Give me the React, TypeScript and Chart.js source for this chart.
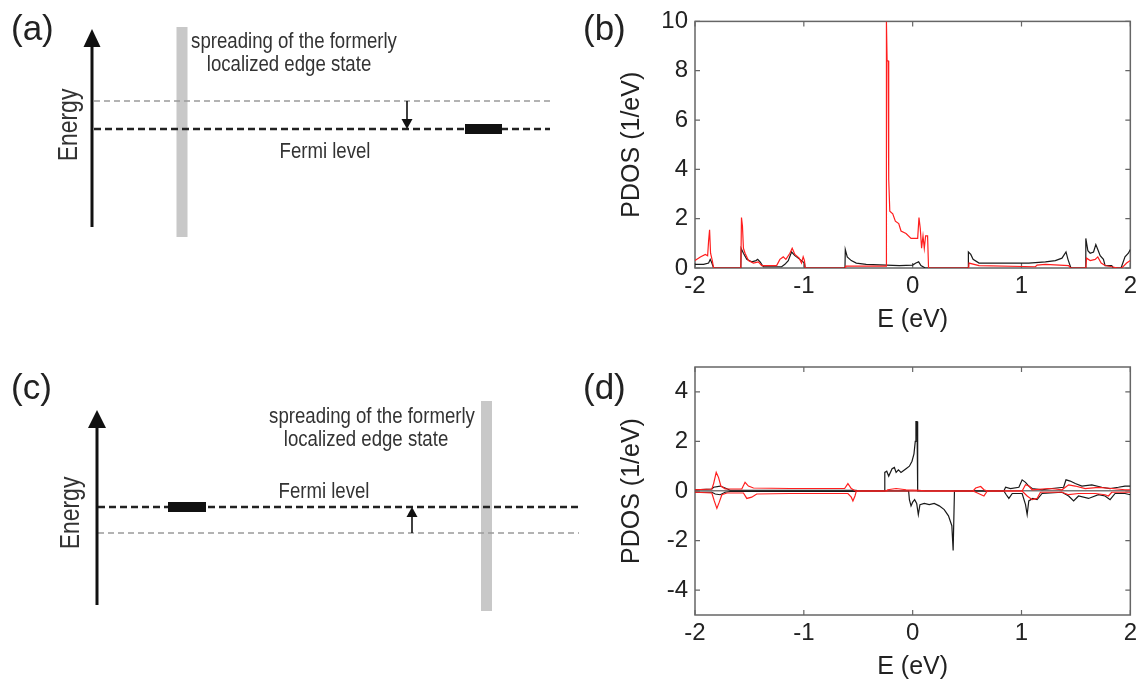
import React, { useEffect, useRef } from "react";
import { Chart, registerables } from "chart.js";

Chart.register(...registerables);

const FONT = "'Liberation Sans', Arial, Helvetica, sans-serif";

type Pt = [number, number];

// ---------------- Panel (b): PDOS, energies in eV, values in 1/eV ----------------
const eTicks = [-2, -1, 0, 1, 2];
const bYTicks = [0, 2, 4, 6, 8, 10];

const bBlack: Pt[] = [
  [-2.0, 0.15], [-1.921, 0.15], [-1.875, 0.2], [-1.86, 0.35], [-1.845, 0.2], [-1.829, 0],
  [-1.579, 0], [-1.576, 0.8], [-1.555, 0.6], [-1.524, 0.35], [-1.479, 0.25], [-1.439, 0.3],
  [-1.424, 0.35], [-1.402, 0.25], [-1.372, 0.05], [-1.204, 0.05], [-1.174, 0.15], [-1.143, 0.3],
  [-1.113, 0.65], [-1.082, 0.5], [-1.052, 0.4], [-1.021, 0.3], [-0.994, 0.2], [-0.988, 0],
  [-0.622, 0], [-0.619, 0.75], [-0.601, 0.45], [-0.564, 0.3], [-0.518, 0.2], [-0.427, 0.15],
  [-0.244, 0.12], [-0.122, 0.1], [0.0, 0.12], [0.03, 0.2], [0.055, 0.25], [0.076, 0.1], [0.116, 0],
  [0.509, 0], [0.512, 0.65], [0.534, 0.55], [0.555, 0.35], [0.61, 0.2], [1.067, 0.2], [1.22, 0.25],
  [1.311, 0.3], [1.372, 0.4], [1.409, 0.65], [1.427, 0.35], [1.454, 0], [1.588, 0], [1.591, 1.2],
  [1.61, 0.7], [1.631, 0.6], [1.662, 0.65], [1.683, 0.95], [1.701, 0.75], [1.723, 0.5],
  [1.753, 0.35], [1.768, 0.1], [1.829, 0.1], [1.845, 0], [1.915, 0], [1.951, 0.45], [1.982, 0.6],
  [2.0, 0.75],
];

const bRed: Pt[] = [
  [-2.0, 0.3], [-1.951, 0.45], [-1.905, 0.55], [-1.884, 0.5], [-1.875, 1.1], [-1.866, 1.55],
  [-1.857, 0.6], [-1.841, 0.3], [-1.829, 0], [-1.579, 0], [-1.573, 2.05], [-1.564, 1.7],
  [-1.555, 0.8], [-1.54, 0.6], [-1.509, 0.3], [-1.463, 0.2], [-1.418, 0.25], [-1.387, 0.1],
  [-1.25, 0.1], [-1.22, 0.35], [-1.189, 0.45], [-1.165, 0.35], [-1.128, 0.6], [-1.107, 0.8],
  [-1.082, 0.55], [-1.043, 0.4], [-1.021, 0.2], [-1.006, 0.45], [-0.994, 0.3], [-0.988, 0],
  [-0.619, 0], [-0.616, 0.08], [-0.244, 0.08], [-0.241, 10], [-0.235, 8.4], [-0.226, 8.4],
  [-0.22, 3.6], [-0.21, 2.3], [-0.183, 2.2], [-0.159, 1.9], [-0.128, 1.8], [-0.107, 1.5],
  [-0.061, 1.4], [-0.015, 1.2], [0.046, 1.2], [0.058, 2.05], [0.07, 1.6], [0.082, 0.8],
  [0.095, 1.3], [0.107, 0.8], [0.119, 1.3], [0.137, 1.3], [0.146, 0], [0.515, 0], [0.518, 0.2],
  [0.61, 0.1], [1.128, 0.05], [1.143, 0.12], [1.22, 0.15], [1.433, 0.1], [1.451, 0], [1.591, 0],
  [1.598, 0.4], [1.631, 0.3], [1.677, 0.35], [1.701, 0.45], [1.732, 0.2], [1.768, 0.1],
  [1.829, 0.05], [1.884, 0], [1.921, 0], [1.966, 0.2], [2.0, 0.3],
];

// ---------------- Panel (d): spin-resolved PDOS ----------------
const dYTicks = [-4, -2, 0, 2, 4];

const dBlackUp: Pt[] = [
  [-2.0, 0.05], [-1.845, 0.08], [-1.829, 0.15], [-1.768, 0.2], [-1.723, 0.12], [-1.677, 0.03],
  [-0.518, 0.03], [-0.509, 0], [-0.262, 0], [-0.256, 0.75], [-0.238, 0.8], [-0.22, 0.6],
  [-0.189, 0.9], [-0.168, 0.95], [-0.152, 0.75], [-0.131, 0.85], [-0.107, 0.75], [-0.061, 0.9],
  [-0.03, 1.0], [-0.006, 1.2], [0.012, 1.5], [0.024, 2.0], [0.03, 2.8], [0.04, 2.8], [0.046, 0],
  [0.838, 0], [0.854, 0.15], [0.899, 0.1], [0.976, 0.15], [1.006, 0.45], [1.037, 0.35],
  [1.067, 0.2], [1.098, 0.1], [1.189, 0.05], [1.28, 0.1], [1.387, 0.15], [1.409, 0.45],
  [1.448, 0.4], [1.494, 0.3], [1.555, 0.2], [1.646, 0.25], [1.738, 0.15], [1.814, 0.1],
  [1.89, 0.15], [1.951, 0.2], [2.0, 0.2],
];

const dBlackDown: Pt[] = [
  [-2.0, -0.05], [-1.845, -0.05], [-1.814, -0.12], [-1.768, -0.15], [-1.723, -0.05],
  [-1.677, -0.02], [-0.518, -0.02], [-0.509, 0], [-0.037, 0], [-0.03, -0.35], [-0.015, -0.6],
  [0.0, -0.45], [0.018, -0.35], [0.037, -0.5], [0.052, -0.95], [0.067, -0.55], [0.107, -0.5],
  [0.152, -0.55], [0.198, -0.5], [0.244, -0.6], [0.29, -0.75], [0.329, -1.0], [0.36, -1.4],
  [0.372, -2.4], [0.378, -2.4], [0.384, 0], [0.838, 0], [0.86, -0.15], [0.884, -0.3],
  [0.915, -0.1], [1.006, -0.1], [1.037, -0.55], [1.052, -0.95], [1.067, -0.4], [1.104, -0.3],
  [1.143, -0.35], [1.189, -0.1], [1.372, -0.05], [1.433, -0.2], [1.479, -0.4], [1.524, -0.2],
  [1.616, -0.3], [1.707, -0.15], [1.768, -0.2], [1.814, -0.35], [1.86, -0.1], [1.951, -0.1],
  [2.0, -0.15],
];

const dRedUp: Pt[] = [
  [-2.0, 0.05], [-1.845, 0.08], [-1.829, 0.3], [-1.805, 0.75], [-1.784, 0.55], [-1.762, 0.2],
  [-1.723, 0.08], [-1.57, 0.08], [-1.54, 0.35], [-1.509, 0.2], [-1.463, 0.12], [-1.128, 0.1],
  [-0.625, 0.1], [-0.595, 0.3], [-0.564, 0.1], [-0.524, 0], [-0.244, 0], [-0.229, 0.05],
  [-0.152, 0.1], [-0.061, 0.05], [0.061, 0.03], [0.122, 0], [0.555, 0], [0.579, 0.12],
  [0.625, 0.18], [0.655, 0.05], [0.686, 0], [1.006, 0], [1.037, 0.25], [1.067, 0.2],
  [1.098, 0.05], [1.25, 0.1], [1.311, 0.08], [1.372, 0.05], [1.433, 0.25], [1.494, 0.2],
  [1.585, 0.1], [1.707, 0.15], [1.829, 0.1], [1.951, 0.05], [2.0, 0.05],
];

const dRedDown: Pt[] = [
  [-2.0, -0.05], [-1.845, -0.08], [-1.823, -0.4], [-1.799, -0.7], [-1.777, -0.45],
  [-1.753, -0.15], [-1.707, -0.08], [-1.555, -0.08], [-1.524, -0.3], [-1.479, -0.25],
  [-1.433, -0.12], [-1.128, -0.1], [-0.595, -0.1], [-0.564, -0.25], [-0.549, -0.4],
  [-0.53, -0.2], [-0.518, 0], [0.555, 0], [0.595, -0.08], [0.655, -0.2], [0.686, 0], [1.006, 0],
  [1.052, -0.2], [1.098, -0.35], [1.143, -0.3], [1.174, -0.05], [1.372, -0.05], [1.433, -0.15],
  [1.524, -0.1], [1.677, -0.1], [1.768, -0.15], [1.799, -0.2], [1.829, -0.05], [2.0, -0.05],
];

// ---------------- Schematic panels (a) and (c), page-pixel units ----------------
const aEnergyAxis: Pt[] = [[92, 227], [92, 44]];
const aBar: Pt[] = [[182, 27], [182, 237]];
const aFormerLevel: Pt[] = [[94, 101], [550, 101]];
const aFermi: Pt[] = [[94, 129], [550, 129]];
const aShift: Pt[] = [[407, 101], [407, 121]];
const aEdge: Pt[] = [[465, 129], [502, 129]];
// [x, tipY, pointsUp(1/0), width, height]
const aHeads = [[92, 29, 1, 17, 18], [407, 129, 0, 11, 10]];
const aTexts: [string, number, number, string][] = [
  ["(a)", 11, 30, "panel"],
  ["spreading of the formerly", 294, 42, "note"],
  ["localized edge state", 289, 65, "note"],
  ["Fermi level", 325, 152, "note"],
  ["Energy", 69, 125, "axis"],
];

const cEnergyAxis: Pt[] = [[97, 605], [97, 426]];
const cBar: Pt[] = [[486.5, 401], [486.5, 611]];
const cFormerLevel: Pt[] = [[98, 533], [579, 533]];
const cFermi: Pt[] = [[98, 507], [579, 507]];
const cShift: Pt[] = [[412, 533], [412, 515]];
const cEdge: Pt[] = [[168, 507], [206, 507]];
const cHeads = [[97, 410, 1, 18, 18], [412, 507, 1, 11, 10]];
const cTexts: [string, number, number, string][] = [
  ["(c)", 11, 389, "panel"],
  ["spreading of the formerly", 372, 417, "note"],
  ["localized edge state", 366, 440, "note"],
  ["Fermi level", 324, 492, "note"],
  ["Energy", 71, 513, "axis"],
];

// ---------------- helpers ----------------
function lineDs(points: Pt[], color: string, width: number, dash: number[] = []) {
  return {
    data: points.map(([x, y]) => ({ x, y })),
    borderColor: color,
    backgroundColor: color,
    borderWidth: width,
    borderDash: dash,
    borderCapStyle: "butt",
    pointRadius: 0,
    fill: false,
    tension: 0,
  };
}

function diagramPlugin(heads: number[][], texts: [string, number, number, string][]) {
  return {
    id: "diagram",
    afterDatasetsDraw(chart: any) {
      const { ctx, scales } = chart;
      const sx = scales.x;
      const sy = scales.y;
      ctx.save();
      ctx.fillStyle = "#111";
      heads.forEach(([hx, hy, up, w, h]) => {
        const px = sx.getPixelForValue(hx);
        const py = sy.getPixelForValue(hy);
        const base = up ? py + h : py - h;
        ctx.beginPath();
        ctx.moveTo(px, py);
        ctx.lineTo(px - w / 2, base);
        ctx.lineTo(px + w / 2, base);
        ctx.closePath();
        ctx.fill();
      });
      texts.forEach(([t, tx, ty, kind]) => {
        const px = sx.getPixelForValue(tx);
        const py = sy.getPixelForValue(ty);
        ctx.save();
        ctx.translate(px, py);
        ctx.textBaseline = "middle";
        if (kind === "panel") {
          ctx.fillStyle = "#222";
          ctx.font = `35px ${FONT}`;
          ctx.textAlign = "left";
          ctx.fillText(t, 0, 0);
        } else {
          if (kind === "axis") ctx.rotate(-Math.PI / 2);
          ctx.scale(0.82, 1);
          ctx.fillStyle = "#333";
          ctx.font = `${kind === "axis" ? 28 : 22.7}px ${FONT}`;
          ctx.textAlign = "center";
          ctx.fillText(t, 0, 0);
        }
        ctx.restore();
      });
      ctx.restore();
    },
  };
}

function diagramConfig(top: number, height: number, datasets: any[], heads: number[][], texts: any[]) {
  return {
    type: "line",
    data: { datasets },
    options: {
      animation: false,
      responsive: false,
      devicePixelRatio: 1,
      events: [],
      layout: { padding: 0 },
      plugins: { legend: { display: false }, tooltip: { enabled: false } },
      scales: {
        x: { type: "linear", min: 0, max: 590, display: false },
        y: { type: "linear", min: top, max: top + height, reverse: true, display: false },
      },
    },
    plugins: [diagramPlugin(heads, texts)],
  };
}

function framePlugin(label: string, lx: number, ly: number) {
  return {
    id: "frame",
    beforeDatasetsDraw(chart: any) {
      const { ctx, chartArea: a, scales } = chart;
      const sx = scales.x;
      const sy = scales.y;
      ctx.save();
      ctx.strokeStyle = "#666";
      ctx.lineWidth = 1.5;
      ctx.strokeRect(a.left, a.top, a.right - a.left, a.bottom - a.top);
      ctx.lineWidth = 1.2;
      ctx.beginPath();
      sx.ticks.forEach((t: any) => {
        const px = sx.getPixelForValue(t.value);
        ctx.moveTo(px, a.bottom);
        ctx.lineTo(px, a.bottom - 5);
        ctx.moveTo(px, a.top);
        ctx.lineTo(px, a.top + 5);
      });
      sy.ticks.forEach((t: any) => {
        const py = sy.getPixelForValue(t.value);
        ctx.moveTo(a.left, py);
        ctx.lineTo(a.left + 5, py);
        ctx.moveTo(a.right, py);
        ctx.lineTo(a.right - 5, py);
      });
      ctx.stroke();
      ctx.fillStyle = "#222";
      ctx.font = `35px ${FONT}`;
      ctx.textAlign = "left";
      ctx.textBaseline = "middle";
      ctx.fillText(label, lx, ly);
      ctx.restore();
    },
  };
}

const YAXIS_W = 120;

function pdosConfig(p: {
  series: { points: Pt[]; color: string }[];
  yMin: number;
  yMax: number;
  yTicks: number[];
  padTop: number;
  axisH: number;
  xTitlePad: number;
  zeroLine: boolean;
  label: string;
  labelY: number;
}) {
  const tickFont = { family: FONT, size: 24 };
  const titleFont = { family: FONT, size: 25 };
  return {
    type: "line",
    data: { datasets: p.series.map((s) => lineDs(s.points, s.color, 1.2)) },
    options: {
      animation: false,
      responsive: false,
      devicePixelRatio: 1,
      events: [],
      layout: { padding: { top: p.padTop, right: 9, bottom: 0, left: 0 } },
      plugins: { legend: { display: false }, tooltip: { enabled: false } },
      scales: {
        x: {
          type: "linear",
          min: -2,
          max: 2,
          afterBuildTicks: (s: any) => {
            s.ticks = eTicks.map((v) => ({ value: v }));
          },
          afterFit: (s: any) => {
            s.height = p.axisH;
          },
          grid: { display: false, drawTicks: false },
          border: { display: false },
          ticks: { font: tickFont, color: "#222", padding: 4, maxRotation: 0, autoSkip: false },
          title: {
            display: true,
            text: "E (eV)",
            font: titleFont,
            color: "#222",
            padding: { top: 0, bottom: p.xTitlePad },
          },
        },
        y: {
          type: "linear",
          min: p.yMin,
          max: p.yMax,
          afterBuildTicks: (s: any) => {
            s.ticks = p.yTicks.map((v) => ({ value: v }));
          },
          afterFit: (s: any) => {
            s.width = YAXIS_W;
          },
          grid: {
            drawTicks: false,
            lineWidth: 1.6,
            color: (c: any) =>
              p.zeroLine && c.tick && c.tick.value === 0 ? "#7a7a7a" : "rgba(0,0,0,0)",
          },
          border: { display: false },
          ticks: { font: tickFont, color: "#222", padding: 7 },
          title: {
            display: true,
            text: "PDOS (1/eV)",
            font: titleFont,
            color: "#222",
            padding: { top: 42, bottom: 0 },
          },
        },
      },
    },
    plugins: [framePlugin(p.label, 8, p.labelY)],
  };
}

const RED = "rgb(255,30,30)";
const BLACK = "#1a1a1a";

function makeA() {
  return diagramConfig(
    0,
    345,
    [
      lineDs(aEnergyAxis, "#111", 3),
      lineDs(aShift, "#111", 1.6),
      lineDs(aEdge, "#111", 10),
      lineDs(aFermi, "#222", 2.5, [7, 4]),
      lineDs(aFormerLevel, "#9a9a9a", 1.5, [6, 4]),
      lineDs(aBar, "#c8c8c8", 11),
    ],
    aHeads,
    aTexts
  );
}

function makeC() {
  return diagramConfig(
    345,
    337,
    [
      lineDs(cEnergyAxis, "#111", 3),
      lineDs(cShift, "#111", 1.6),
      lineDs(cEdge, "#111", 10),
      lineDs(cFermi, "#222", 2.5, [7, 4]),
      lineDs(cFormerLevel, "#9a9a9a", 1.5, [6, 4]),
      lineDs(cBar, "#c8c8c8", 11),
    ],
    cHeads,
    cTexts
  );
}

function makeB() {
  return pdosConfig({
    series: [
      { points: bRed, color: RED },
      { points: bBlack, color: BLACK },
    ],
    yMin: 0,
    yMax: 10,
    yTicks: bYTicks,
    padTop: 21,
    axisH: 77,
    xTitlePad: 10,
    zeroLine: false,
    label: "(b)",
    labelY: 30,
  });
}

function makeD() {
  return pdosConfig({
    series: [
      { points: dRedUp, color: RED },
      { points: dRedDown, color: RED },
      { points: dBlackUp, color: BLACK },
      { points: dBlackDown, color: BLACK },
    ],
    yMin: -5,
    yMax: 5,
    yTicks: dYTicks,
    padTop: 22,
    axisH: 67,
    xTitlePad: 0,
    zeroLine: true,
    label: "(d)",
    labelY: 44,
  });
}

function ChartCanvas(props: { left: number; top: number; width: number; height: number; make: () => any }) {
  const ref = useRef<HTMLCanvasElement>(null);
  const { left, top, width, height, make } = props;
  useEffect(() => {
    if (!ref.current) return;
    const chart = new Chart(ref.current, make());
    return () => chart.destroy();
  }, [make]);
  return (
    <canvas
      ref={ref}
      width={width}
      height={height}
      style={{ position: "absolute", left, top, width, height }}
    />
  );
}

export default function App() {
  useEffect(() => {
    document.body.style.margin = "0";
  }, []);
  return (
    <div
      style={{
        position: "absolute",
        left: 0,
        top: 0,
        width: 1141,
        height: 682,
        background: "#fff",
        overflow: "hidden",
      }}
    >
      <ChartCanvas left={0} top={0} width={590} height={345} make={makeA} />
      <ChartCanvas left={0} top={345} width={590} height={337} make={makeC} />
      <ChartCanvas left={575} top={0} width={566} height={345} make={makeB} />
      <ChartCanvas left={575} top={345} width={566} height={337} make={makeD} />
    </div>
  );
}
